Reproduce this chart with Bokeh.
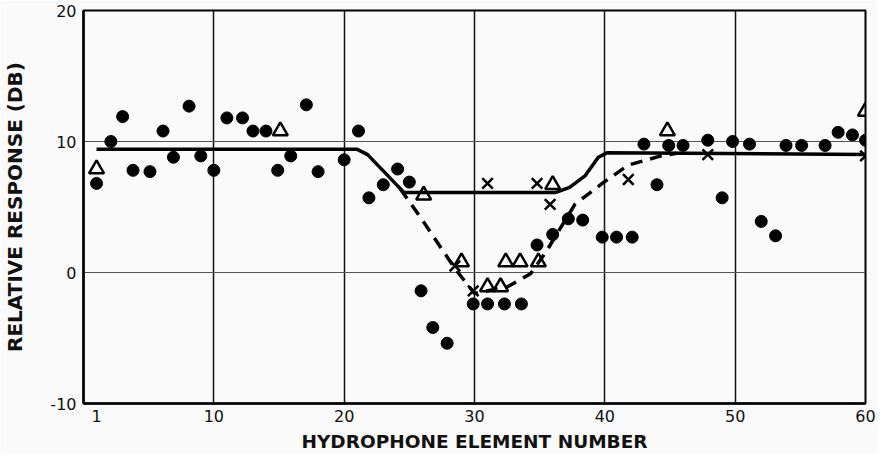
from bokeh.plotting import figure
from bokeh.models import Range1d, FixedTicker
from bokeh.embed import file_html
from bokeh.resources import INLINE

# ---- data ----
circle_x = [1, 2.1, 3, 3.8, 5.1, 6.1, 6.9, 8.1, 9, 10, 11, 12.2, 13, 14, 14.9, 15.9,
            17.1, 18, 20, 21.1, 21.9, 23, 24.1, 25, 25.9, 26.8, 27.9, 29.9, 31, 32.3,
            33.6, 34.8, 36, 37.2, 38.3, 39.8, 40.9, 42.1, 43, 44, 44.9, 46, 47.9, 49,
            49.8, 51.1, 52, 53.1, 53.9, 55.1, 56.9, 57.9, 59, 60]
circle_y = [6.8, 10.0, 11.9, 7.8, 7.7, 10.8, 8.8, 12.7, 8.9, 7.8, 11.8, 11.8, 10.8, 10.8, 7.8, 8.9,
            12.8, 7.7, 8.6, 10.8, 5.7, 6.7, 7.9, 6.9, -1.4, -4.2, -5.4, -2.4, -2.4, -2.4,
            -2.4, 2.1, 2.9, 4.1, 4.0, 2.7, 2.7, 2.7, 9.8, 6.7, 9.7, 9.7, 10.1, 5.7,
            10.0, 9.8, 3.9, 2.8, 9.7, 9.7, 9.7, 10.7, 10.5, 10.1]

triangle_x = [1, 15.1, 26.1, 29.0, 31.0, 32.0, 32.4, 33.5, 34.9, 36.0, 44.8, 60]
triangle_y = [7.9, 10.8, 5.9, 0.8, -1.1, -1.1, 0.8, 0.8, 0.8, 6.7, 10.8, 12.3]

cross_x = [28.5, 29.9, 31.0, 34.8, 35.8, 41.8, 47.9, 60]
cross_y = [0.5, -1.4, 6.8, 6.8, 5.2, 7.1, 9.0, 8.9]

solid_x = [1, 21, 21.8, 24.6, 36.2, 37.3, 38.5, 39.5, 40.2, 60]
solid_y = [9.4, 9.4, 9.0, 6.1, 6.1, 6.5, 7.4, 8.8, 9.15, 9.0]

dashed_x = [24.3, 26, 28.5, 30, 32.5, 34.3, 35.5, 37.7, 39.8, 41.8, 44.3, 45.5]
dashed_y = [6.4, 4.0, 0.3, -1.6, -1.1, -0.1, 1.6, 5.2, 6.8, 8.2, 8.9, 9.1]

x_ticks = [1, 10, 20, 30, 40, 50, 60]
y_ticks = [-10, 0, 10, 20]
x_grid = [10, 20, 30, 40, 50]
y_grid = [0, 10]

BG = "#fafafa"

p = figure(width=877, height=454, output_backend="svg", toolbar_location=None,
           x_range=Range1d(0, 60), y_range=Range1d(-10, 20),
           min_border_left=75, min_border_right=12, min_border_top=10, min_border_bottom=51,
           background_fill_color=BG, border_fill_color=BG)

p.outline_line_color = "black"
p.outline_line_width = 2

for ax in (p.xaxis[0], p.yaxis[0]):
    ax.major_tick_out = 0
    ax.major_tick_in = 0
    ax.minor_tick_out = 0
    ax.minor_tick_in = 0
    ax.axis_line_color = "black"
    ax.axis_line_width = 2.5
    ax.major_label_text_font = "DejaVu Sans"
    ax.major_label_text_font_size = "16px"
    ax.major_label_text_color = "#111111"
    ax.axis_label_text_font = "DejaVu Sans"
    ax.axis_label_text_font_style = "bold"
    ax.axis_label_text_color = "#111111"

p.xaxis[0].ticker = FixedTicker(ticks=x_ticks)
p.xaxis[0].major_label_overrides = {t: str(t) for t in x_ticks}
p.yaxis[0].ticker = FixedTicker(ticks=y_ticks)
p.yaxis[0].major_label_overrides = {t: str(t) for t in y_ticks}

p.xaxis[0].axis_label = "HYDROPHONE ELEMENT NUMBER"
p.xaxis[0].axis_label_text_font_size = "18.5px"
p.xaxis[0].major_label_standoff = 6
p.xaxis[0].axis_label_standoff = 6

p.yaxis[0].axis_label = "RELATIVE RESPONSE (DB)"
p.yaxis[0].axis_label_text_font_size = "20px"
p.yaxis[0].major_label_standoff = 7
p.yaxis[0].axis_label_standoff = 20

p.xgrid[0].ticker = FixedTicker(ticks=x_grid)
p.ygrid[0].ticker = FixedTicker(ticks=y_grid)
p.xgrid[0].grid_line_color = "#111111"
p.xgrid[0].grid_line_width = 1.5
p.ygrid[0].grid_line_color = "#555555"
p.ygrid[0].grid_line_width = 1.2

p.line(solid_x, solid_y, line_color="black", line_width=3.5)
p.line(dashed_x, dashed_y, line_color="black", line_width=3.5, line_dash="12 8")

p.scatter(circle_x, circle_y, marker="circle", size=12, fill_color="black", line_color="black")
p.scatter(triangle_x, triangle_y, marker="triangle", size=15, fill_color=None,
          line_color="black", line_width=2.5)
p.scatter(cross_x, cross_y, marker="x", size=15, line_color="black", line_width=2.5)

open("out.html", "w").write(file_html(p, INLINE))
